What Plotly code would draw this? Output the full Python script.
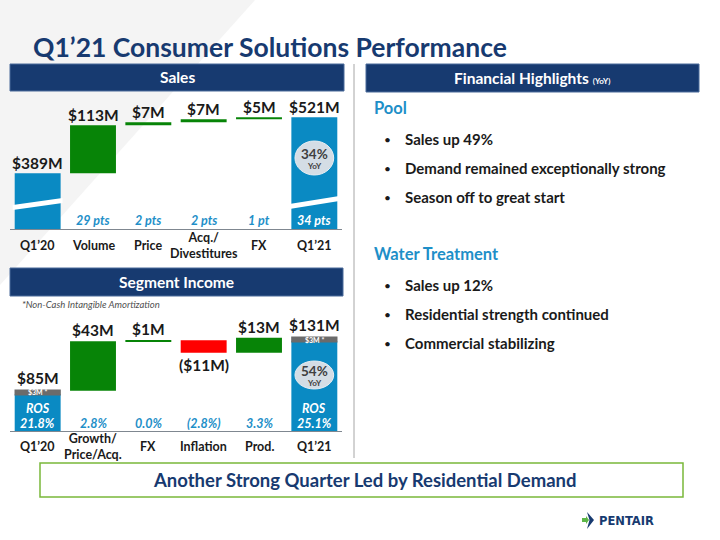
import plotly.graph_objects as go

# ---------------- data ----------------
sales_categories = ["Q1’20", "Volume", "Price", "Acq./<br>Divestitures", "FX", "Q1’21"]
sales_values = [389, 113, 7, 7, 5, 521]
sales_is_total = [True, False, False, False, False, True]
sales_value_labels = ["$389M", "$113M", "$7M", "$7M", "$5M", "$521M"]
sales_pts_labels = ["", "29 pts", "2 pts", "2 pts", "1 pt", "34 pts"]
sales_yoy = "34%"

seg_categories = ["Q1’20", "Growth/<br>Price/Acq.", "FX", "Inflation", "Prod.", "Q1’21"]
seg_values = [85, 43, 1, -11, 13, 131]
seg_is_total = [True, False, False, False, False, True]
seg_value_labels = ["$85M", "$43M", "$1M", "($11M)", "$13M", "$131M"]
seg_ros_labels = ["21.8%", "2.8%", "0.0%", "(2.8%)", "3.3%", "25.1%"]
seg_amortization = 3
seg_amort_label = "$3M *"
seg_yoy = "54%"

pool_bullets = ["Sales up 49%", "Demand remained exceptionally strong", "Season off to great start"]
water_bullets = ["Sales up 12%", "Residential strength continued", "Commercial stabilizing"]

# ---------------- style ----------------
W, H = 720, 540
NAVY = "#173A70"
BLUE = "#0A8AC3"
LBLUE = "#1E8FC8"
GREEN = "#078407"
RED = "#FF0000"
GREY = "#6B6B6B"
TXT = "#1A1A1A"
FONT = "Lato"


def px(x):
    return x / W


def py(y):
    return 1 - y / H


def waterfall(values, is_total):
    bases, tops, bottoms = [], [], []
    running = 0
    for v, t in zip(values, is_total):
        if t:
            b = 0
            running = v
            top, bot = v, 0
        else:
            b = running
            running = running + v
            top, bot = max(b, running), min(b, running)
        bases.append(b)
        tops.append(top)
        bottoms.append(bot)
    return bases, tops, bottoms


fig = go.Figure()
xs = list(range(len(sales_categories)))
BARW = 0.83

# ---- Sales bars ----
s_base, s_top, s_bot = waterfall(sales_values, sales_is_total)
s_colors = [BLUE if t else GREEN for t in sales_is_total]
fig.add_trace(go.Bar(x=xs, y=sales_values, base=s_base, width=BARW,
                     marker=dict(color=s_colors, line=dict(width=0)),
                     xaxis="x", yaxis="y", showlegend=False, hoverinfo="skip"))

# ---- Segment income bars ----
g_base, g_top, g_bot = waterfall(seg_values, seg_is_total)
main_y, main_base, main_col = [], [], []
for v, b, t in zip(seg_values, g_base, seg_is_total):
    if t:
        main_y.append(v - seg_amortization)
        main_base.append(0)
        main_col.append(BLUE)
    else:
        main_y.append(v)
        main_base.append(b)
        main_col.append(GREEN if v >= 0 else RED)
fig.add_trace(go.Bar(x=xs, y=main_y, base=main_base, width=BARW,
                     marker=dict(color=main_col, line=dict(width=0)),
                     xaxis="x2", yaxis="y2", showlegend=False, hoverinfo="skip"))
am_x = [x for x, t in zip(xs, seg_is_total) if t]
am_base = [v - seg_amortization for v, t in zip(seg_values, seg_is_total) if t]
fig.add_trace(go.Bar(x=am_x, y=[seg_amortization] * len(am_x), base=am_base, width=BARW - 0.04,
                     marker=dict(color=GREY, line=dict(color=GREY, width=2.6)),
                     xaxis="x2", yaxis="y2", showlegend=False, hoverinfo="skip"))

# ---- axes ----
xdom = [px(10), px(342)]
axis_common = dict(range=[-0.5, 5.5], showgrid=False, zeroline=False, showticklabels=False,
                   showline=True, linecolor="#7F8790", linewidth=1, ticks="", fixedrange=True)
S_FLOOR, S_SCALE, S_BASE_PY, S_TOP_PY = 258, 0.425, 229, 95
G_FLOOR, G_SCALE, G_BASE_PY, G_TOP_PY = 50, 1.15, 431, 320
fig.update_layout(
    xaxis=dict(domain=xdom, anchor="y", **axis_common),
    yaxis=dict(domain=[py(S_BASE_PY), py(S_TOP_PY)], anchor="x",
               range=[S_FLOOR, S_FLOOR + (S_BASE_PY - S_TOP_PY) / S_SCALE],
               visible=False, fixedrange=True),
    xaxis2=dict(domain=xdom, anchor="y2", **axis_common),
    yaxis2=dict(domain=[py(G_BASE_PY), py(G_TOP_PY)], anchor="x2",
                range=[G_FLOOR, G_FLOOR + (G_BASE_PY - G_TOP_PY) / G_SCALE],
                visible=False, fixedrange=True),
)

shapes = []
ann = []

# background diagonal
shapes.append(dict(type="path", xref="paper", yref="paper", layer="below",
                   path=f"M 0 1 L {px(255)} 1 L 0 {py(285)} Z",
                   fillcolor="#F4F4F4", line=dict(width=0)))

# header bars
def header(x0, x1, y0, y1, text):
    shapes.append(dict(type="rect", xref="paper", yref="paper", x0=px(x0), x1=px(x1),
                       y0=py(y1), y1=py(y0), fillcolor=NAVY, line=dict(color="#4A6A9A", width=1)))
    ann.append(dict(xref="paper", yref="paper", x=px((x0 + x1) / 2), y=py((y0 + y1) / 2),
                    text=text, showarrow=False, font=dict(family=FONT, size=15.5, color="white"),
                    xanchor="center", yanchor="middle"))

header(10, 344, 64, 91, "<b>Sales</b>")
header(366, 699, 64, 92, "<b>Financial Highlights</b> <b><span style='font-size:8px'>(YoY)</span></b>")
header(10, 343, 268, 296, "<b>Segment Income</b>")

# title
ann.append(dict(xref="paper", yref="paper", x=px(31), y=py(47), xanchor="left", yanchor="middle",
                text="<b>Q1’21 Consumer Solutions Performance</b>", showarrow=False,
                font=dict(family=FONT, size=26.5, color=NAVY)))

# divider
shapes.append(dict(type="line", xref="paper", yref="paper", x0=px(354), x1=px(354),
                   y0=py(458), y1=py(64), line=dict(color="#A6A6A6", width=1)))

# sales: axis breaks
for i, t in enumerate(sales_is_total):
    if t:
        l, r = i - 0.45, i + 0.45
        yl0, yl1 = (py(210), py(205)) if i == 0 else (py(209), py(204))
        yr0, yr1 = (py(203), py(198)) if i == 0 else (py(201), py(196))
        shapes.append(dict(type="path", xref="x", yref="paper",
                           path=f"M {l} {yl0} L {r} {yr0} L {r} {yr1} L {l} {yl1} Z",
                           fillcolor="white", line=dict(width=0)))

# sales labels
for i in xs:
    ann.append(dict(xref="x", yref="y", x=i, y=s_top[i], yanchor="bottom", yshift=-1,
                    text=f"<b>{sales_value_labels[i]}</b>", showarrow=False,
                    font=dict(family=FONT, size=15.5, color=TXT)))
    if sales_pts_labels[i]:
        ann.append(dict(xref="x", yref="paper", x=i, y=py(221), yanchor="middle",
                        text=f"<b><i>{sales_pts_labels[i]}</i></b>", showarrow=False,
                        font=dict(family=FONT, size=12.5, color="white" if sales_is_total[i] else LBLUE)))
    cat = sales_categories[i]
    ann.append(dict(xref="x", yref="paper", x=i, y=py(245 if "<br>" not in cat else 245.5),
                    yanchor="middle", text=f"<b>{cat}</b>", showarrow=False,
                    font=dict(family=FONT, size=12.5, color=TXT)))

# YoY ellipses
def yoy(yc, hh, txt):
    shapes.append(dict(type="circle", xref="x", yref="paper", x0=5 - 0.35, x1=5 + 0.35,
                       y0=py(yc + hh), y1=py(yc - hh), fillcolor="#D4DDE5",
                       line=dict(color="#E8EEF3", width=1)))
    ann.append(dict(xref="x", yref="paper", x=5, y=py(yc - 4), yanchor="middle",
                    text=f"<b>{txt}</b>", showarrow=False, font=dict(family=FONT, size=13.5, color="#404040")))
    ann.append(dict(xref="x", yref="paper", x=5, y=py(yc + 8), yanchor="middle",
                    text="<b>YoY</b>", showarrow=False, font=dict(family=FONT, size=8, color="#404040")))

yoy(158, 17, sales_yoy)
yoy(375, 14, seg_yoy)

# segment labels
ann.append(dict(xref="paper", yref="paper", x=px(20), y=py(304), xanchor="left", yanchor="middle",
                text="<i>*Non-Cash Intangible Amortization</i>", showarrow=False,
                font=dict(family=FONT, size=9.5, color="#505050")))
for i in xs:
    if seg_values[i] >= 0:
        ann.append(dict(xref="x2", yref="y2", x=i, y=g_top[i], yanchor="bottom",
                        yshift=2 if seg_is_total[i] else 0,
                        text=f"<b>{seg_value_labels[i]}</b>", showarrow=False,
                        font=dict(family=FONT, size=15.5, color=TXT)))
    else:
        ann.append(dict(xref="x2", yref="y2", x=i, y=g_bot[i], yanchor="top", yshift=-1,
                        text=f"<b>{seg_value_labels[i]}</b>", showarrow=False,
                        font=dict(family=FONT, size=15.5, color=TXT)))
    if seg_is_total[i]:
        ann.append(dict(xref="x2", yref="y2", x=i, y=seg_values[i] - seg_amortization / 2,
                        yanchor="middle", text=f"<b>{seg_amort_label}</b>", showarrow=False,
                        borderpad=0, font=dict(family=FONT, size=7, color="white")))
        ann.append(dict(xref="x2", yref="paper", x=i, y=py(408), yanchor="middle",
                        text="<b><i>ROS</i></b>", showarrow=False,
                        font=dict(family=FONT, size=12.5, color="white")))
        ann.append(dict(xref="x2", yref="paper", x=i, y=py(423), yanchor="middle",
                        text=f"<b><i>{seg_ros_labels[i]}</i></b>", showarrow=False,
                        font=dict(family=FONT, size=12.5, color="white")))
    else:
        ann.append(dict(xref="x2", yref="paper", x=i, y=py(423), yanchor="middle",
                        text=f"<b><i>{seg_ros_labels[i]}</i></b>", showarrow=False,
                        font=dict(family=FONT, size=12.5, color=LBLUE)))
    cat = seg_categories[i]
    ann.append(dict(xref="x2", yref="paper", x=i, y=py(446), yanchor="middle",
                    text=f"<b>{cat}</b>", showarrow=False,
                    font=dict(family=FONT, size=12.5, color=TXT)))

# right panel
def section(title, y_title, bullets, y0):
    ann.append(dict(xref="paper", yref="paper", x=px(372), y=py(y_title), xanchor="left",
                    yanchor="middle", text=f"<b>{title}</b>", showarrow=False,
                    font=dict(family=FONT, size=16.5, color=LBLUE)))
    for k, b in enumerate(bullets):
        y = y0 + k * 29
        ann.append(dict(xref="paper", yref="paper", x=px(382), y=py(y), xanchor="left",
                        yanchor="middle", text="•", showarrow=False,
                        font=dict(family=FONT, size=12, color=TXT)))
        ann.append(dict(xref="paper", yref="paper", x=px(403), y=py(y), xanchor="left",
                        yanchor="middle", text=f"<b>{b}</b>", showarrow=False,
                        font=dict(family=FONT, size=15, color=TXT)))

section("Pool", 108, pool_bullets, 139)
section("Water Treatment", 254, water_bullets, 285)

# bottom message box
shapes.append(dict(type="rect", xref="paper", yref="paper", x0=px(40), x1=px(683),
                   y0=py(497), y1=py(463), fillcolor="white", line=dict(color="#79B83A", width=1.5)))
ann.append(dict(xref="paper", yref="paper", x=px(364), y=py(480), yanchor="middle",
                text="<b>Another Strong Quarter Led by Residential Demand</b>", showarrow=False,
                font=dict(family=FONT, size=18.5, color=NAVY)))

# logo
shapes.append(dict(type="path", xref="paper", yref="paper",
                   path=f"M {px(587)} {py(512)} L {px(594)} {py(520)} L {px(587)} {py(529)} "
                        f"L {px(589.5)} {py(520)} Z", fillcolor=NAVY, line=dict(width=0)))
shapes.append(dict(type="path", xref="paper", yref="paper",
                   path=f"M {px(582)} {py(518)} L {px(586)} {py(518)} L {px(586)} {py(516)} "
                        f"L {px(589)} {py(520)} L {px(586)} {py(524)} L {px(586)} {py(522)} "
                        f"L {px(582)} {py(522)} Z", fillcolor="#5DB648", line=dict(width=0)))
ann.append(dict(xref="paper", yref="paper", x=px(597), y=py(520.5), xanchor="left", yanchor="middle",
                text="<b>PENTAIR</b>", showarrow=False,
                font=dict(family="DejaVu Sans", size=11.5, color=NAVY)))

fig.update_layout(width=W, height=H, margin=dict(l=0, r=0, t=0, b=0),
                  paper_bgcolor="white", plot_bgcolor="rgba(0,0,0,0)",
                  shapes=shapes, annotations=ann, barmode="overlay", showlegend=False)

fig.write_html("out.html", config={"displayModeBar": False})
